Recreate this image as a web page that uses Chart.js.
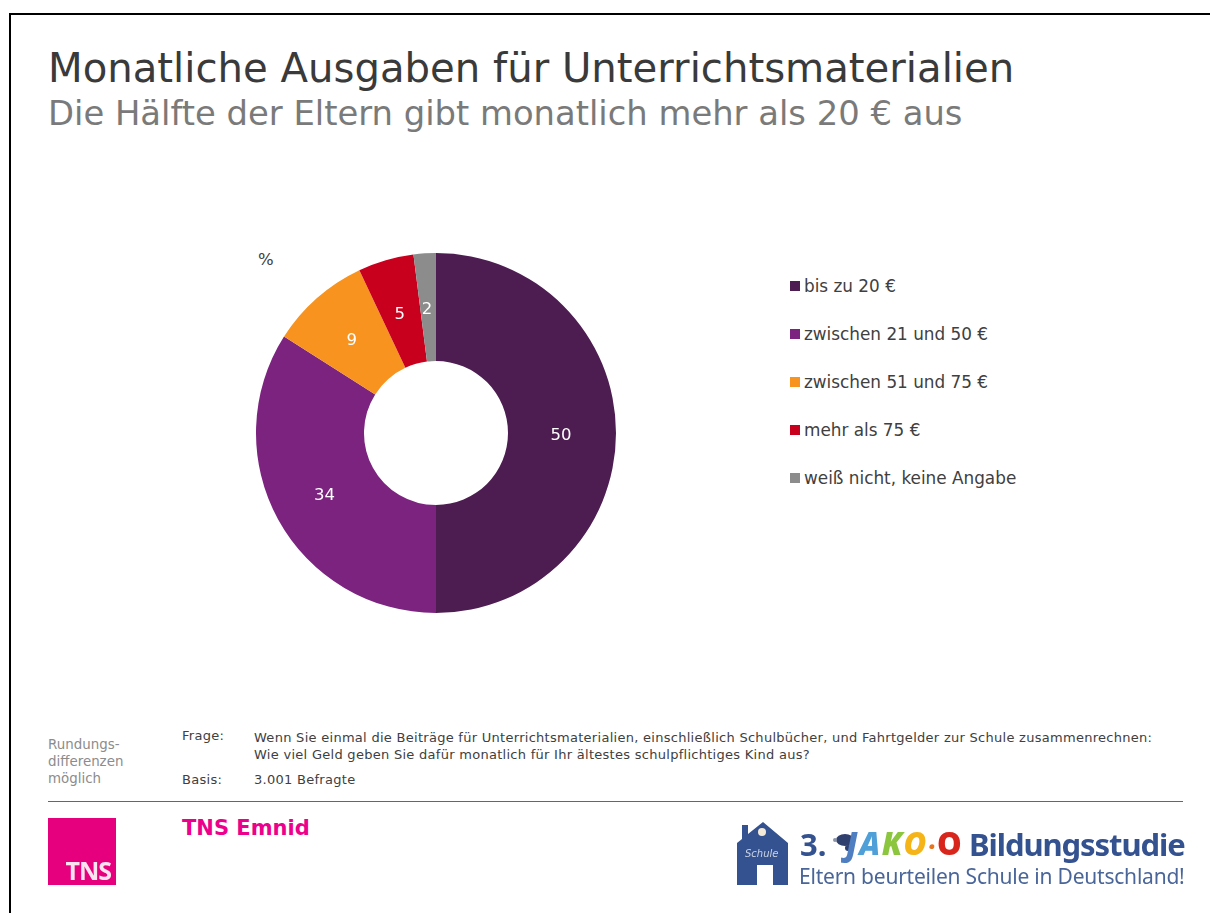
<!DOCTYPE html>
<html lang="de"><head><meta charset="utf-8">
<style>
html,body{margin:0;padding:0;background:#fff;width:1210px;height:913px;overflow:hidden;font-family:"DejaVu Sans",sans-serif}
.t{position:absolute;white-space:nowrap;line-height:1}
.n{font-size:13px;letter-spacing:.28px;color:#404040}
#frameT{position:absolute;left:9px;top:13px;width:1201px;height:2px;background:#000}
#frameL{position:absolute;left:9px;top:13px;width:2px;height:900px;background:#000}
#wrap{position:absolute;left:256px;top:253px;width:360px;height:360px}
.sw{position:absolute;width:10px;height:10px;left:790px}
#rule{position:absolute;left:48px;top:801px;width:1135px;height:1px;background:#666}
#tns{position:absolute;left:48px;top:818px;width:68px;height:67px;background:#e6007e}
#tns span{position:absolute;right:5px;bottom:2px;font:700 25px/1 "Open Sans",sans-serif;color:#fbe3f0;letter-spacing:-1px;filter:blur(.4px)}
</style></head><body>
<div id="frameT"></div><div id="frameL"></div>
<div class="t" style="left:48px;top:48px;font-size:40.2px;color:#3a3a3a">Monatliche Ausgaben für Unterrichtsmaterialien</div>
<div class="t" style="left:48px;top:97px;font-size:33.8px;color:#7a7a7a">Die Hälfte der Eltern gibt monatlich mehr als 20 € aus</div>
<div class="t" style="left:258px;top:252px;font-size:16.5px;color:#404040">%</div>
<div id="wrap"><canvas id="c" width="360" height="360"></canvas></div>
<div id="legend"></div>
<div class="t" style="left:48px;top:737px;font-size:13.4px;color:#8c8c8c;line-height:16.8px">Rundungs-<br>differenzen<br>möglich</div>
<div class="t n" style="left:182px;top:729px">Frage:</div>
<div class="t n" style="left:254px;top:729px;line-height:17px">Wenn Sie einmal die Beiträge für Unterrichtsmaterialien, einschließlich Schulbücher, und Fahrtgelder zur Schule zusammenrechnen:<br>Wie viel Geld geben Sie dafür monatlich für Ihr ältestes schulpflichtiges Kind aus?</div>
<div class="t n" style="left:182px;top:773px">Basis:</div>
<div class="t n" style="left:254px;top:773px">3.001 Befragte</div>
<div id="rule"></div>
<div id="tns"><span>TNS</span></div>
<div class="t" style="left:182px;top:818px;font-size:21px;font-weight:bold;color:#ec008c">TNS Emnid</div>
<svg style="position:absolute;left:737px;top:822px;filter:blur(.5px)" width="52" height="64" viewBox="0 0 52 64">
<path d="M0 21 L5 17 V3 H11 V12 L26 0 L51 21 V63 H36 V43 H20 V63 H0Z" fill="#34528f"/>
<circle cx="25" cy="10" r="4" fill="#f3e9d8"/>
<text x="8" y="35" font-size="10" fill="#c9d3e6" font-style="italic" font-family="DejaVu Sans">Schule</text>
</svg>
<div class="t" style="left:800px;top:829px;font:bold 31px/1 'Noto Sans',sans-serif;color:#34528f;filter:blur(.4px)">3.</div>
<svg style="position:absolute;left:832px;top:832px;filter:blur(.5px)" width="25" height="22" viewBox="0 0 25 22">
<ellipse cx="13" cy="8" rx="9" ry="6" fill="#2f3f6e"/><circle cx="3" cy="8" r="2" fill="#8a94a8"/><circle cx="16" cy="16" r="3" fill="#2f3f6e"/>
</svg>
<div class="t" style="left:846px;top:828px;font:italic 900 31px/1 'Noto Sans',sans-serif;letter-spacing:1.6px;filter:blur(.4px)"><span style="color:#4f7fc0">J</span><span style="color:#4f9fd8">A</span><span style="color:#8cc63f">K</span><span style="color:#f5b417">O</span><span style="color:#e8731a;font-size:24px">·</span><span style="color:#d9261c;font-style:normal">O</span></div>
<div class="t" style="left:969px;top:829px;font:bold 31px/1 'Noto Sans',sans-serif;color:#34528f;letter-spacing:-1.08px;filter:blur(.4px)">Bildungsstudie</div>
<div class="t" style="left:799px;top:866px;font:21px/1 'Noto Sans',sans-serif;color:#4a6699;letter-spacing:-.22px;filter:blur(.3px)">Eltern beurteilen Schule in Deutschland!</div>
<script src="https://cdn.jsdelivr.net/npm/chart.js@4/dist/chart.umd.min.js"></script>
<script>
const categories = ["bis zu 20 €","zwischen 21 und 50 €","zwischen 51 und 75 €","mehr als 75 €","weiß nicht, keine Angabe"];
const values = [50,34,9,5,2];
const colors = ["#4d1d52","#7b237f","#f7931e","#c8001e","#8c8c8c"];
const legendTops = [286,334,382,430,478];
const labelsPlugin = {id:"sliceLabels",afterDatasetsDraw(chart){
  const ctx=chart.ctx;ctx.save();
  ctx.font='16.5px "DejaVu Sans"';ctx.fillStyle="#fff";ctx.textAlign="center";ctx.textBaseline="middle";
  chart.getDatasetMeta(0).data.forEach((a,i)=>{const p=a.tooltipPosition();ctx.fillText(String(values[i]),p.x-1,p.y+2.5);});
  ctx.restore();
}};
new Chart(document.getElementById("c"),{type:"doughnut",
  data:{labels:categories,datasets:[{data:values,backgroundColor:colors,borderWidth:0}]},
  options:{responsive:false,animation:false,cutout:"40%",layout:{padding:0},
    plugins:{legend:{display:false},tooltip:{enabled:false}}},
  plugins:[labelsPlugin]});
const lg=document.getElementById("legend");
categories.forEach((c,i)=>{
  const s=document.createElement("div");s.className="sw";s.style.top=(legendTops[i]-5)+"px";s.style.background=colors[i];lg.appendChild(s);
  const t=document.createElement("div");t.className="t";t.textContent=c;
  t.style.cssText="left:804px;font-size:16.85px;color:#404040;top:"+(legendTops[i]-8)+"px";lg.appendChild(t);
});
</script>
</body></html>
